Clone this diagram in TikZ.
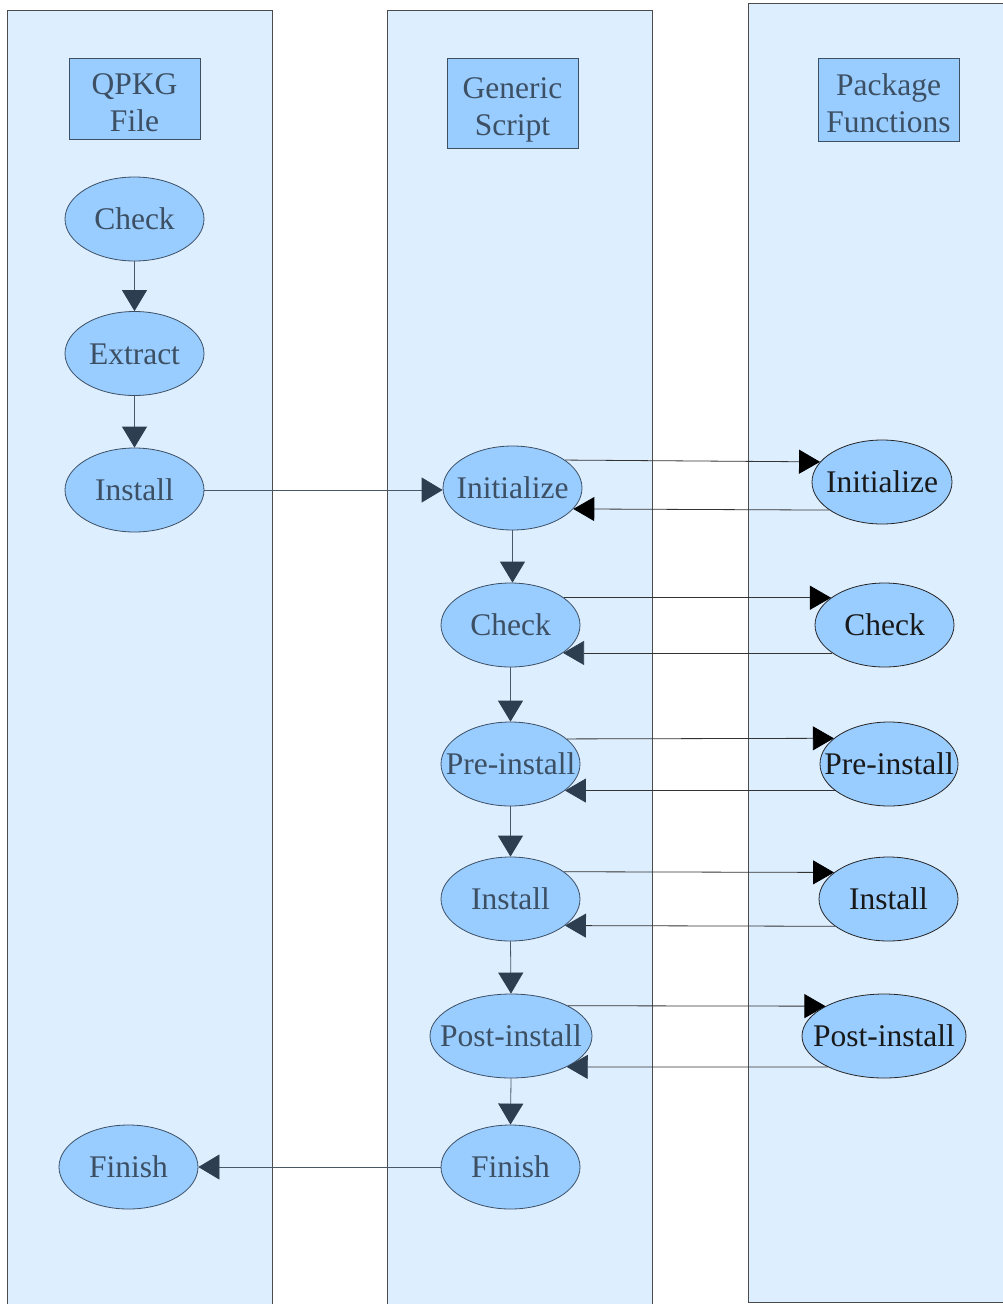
\documentclass[tikz,border=0pt]{standalone}
\usepackage{fontspec}
\setmainfont{Liberation Serif}
\usetikzlibrary{shapes.geometric,arrows.meta}
\definecolor{lanefill}{HTML}{DDEEFF}
\definecolor{nodefill}{HTML}{99CCFF}
\definecolor{slate}{HTML}{3C4F63}
\definecolor{tipc}{HTML}{2C3E50}
\definecolor{linec}{HTML}{4A5866}
\newcommand\elltext[1]{\makebox[0pt]{#1}}
\newcommand\hdrtext[2]{\raisebox{-7pt}[\height][\depth]{\begin{tabular}{@{}c@{}}#1\\#2\end{tabular}}}
\begin{document}
\begin{tikzpicture}[x=1pt,y=-1pt,
  lane/.style={fill=lanefill,draw=black!70,line width=1pt},
  hdr/.style={rectangle,draw=slate,fill=nodefill,line width=0.8pt,text=slate,inner sep=0pt,font=\fontsize{31.5}{37}\selectfont},
  ell/.style={ellipse,draw=slate,fill=nodefill,line width=0.8pt,inner sep=0pt,text=slate,font=\fontsize{31.5}{35}\selectfont,text height=21pt,text depth=0pt,minimum width=139pt,minimum height=84pt},
  ellb/.style={ell,text=black!90,draw=black!85},
  flow/.style={draw=linec,line width=0.8pt,-{Triangle[length=21pt,width=25pt,color=tipc]}},
  callto/.style={draw=black!80,line width=0.8pt,-{Triangle[length=21pt,width=24pt,color=black]}},
  callback/.style={draw=black!80,line width=0.8pt,-{Triangle[length=21pt,width=24pt,color=tipc]}},
  callbackb/.style={draw=black!80,line width=0.8pt,-{Triangle[length=21pt,width=24pt,color=black]}}
]
\useasboundingbox (0,0) rectangle (1002,1304);
\fill[white] (0,0) rectangle (1002,1304);
% lanes
\path[lane] (7,10) rectangle (272,1312);
\path[lane] (387,10) rectangle (652,1312);
\path[lane] (748,3) rectangle (1012,1302);
% headers
\node[hdr,minimum width=131pt,minimum height=81pt] (h1) at (134.5,98.5) {\hdrtext{QPKG}{File}};
\node[hdr,minimum width=131pt,minimum height=90pt] (h2) at (512.5,103) {\hdrtext{Generic}{Script}};
\node[hdr,minimum width=141pt,minimum height=83pt] (h3) at (888.5,99.5) {\hdrtext{Package}{Functions}};
% lane 1
\node[ell] (acheck) at (134.5,219) {\elltext{Check}};
\node[ell] (aextract) at (134.5,353.5) {\elltext{Extract}};
\node[ell] (ainstall) at (134.5,490) {\elltext{Install}};
\node[ell] (afinish) at (128.5,1167) {\elltext{Finish}};
% lane 2
\node[ell] (binit) at (512.5,488) {\elltext{Initialize}};
\node[ell] (bcheck) at (510.5,625) {\elltext{Check}};
\node[ell] (bpre) at (510.5,764) {\elltext{Pre-install}};
\node[ell] (binstall) at (510.5,899) {\elltext{Install}};
\node[ell,minimum width=162pt] (bpost) at (511,1036) {\elltext{Post-install}};
\node[ell] (bfinish) at (510.5,1167) {\elltext{Finish}};
% lane 3
\node[ellb,minimum width=140pt] (cinit) at (882,482) {\elltext{Initialize}};
\node[ellb] (ccheck) at (884.5,625) {\elltext{Check}};
\node[ellb,minimum width=138pt] (cpre) at (889,764) {\elltext{Pre-install}};
\node[ellb] (cinstall) at (888.5,899) {\elltext{Install}};
\node[ellb,minimum width=164pt] (cpost) at (884,1036) {\elltext{Post-install}};
% lane 1 flow
\draw[flow] (acheck.south) -- (aextract.north);
\draw[flow] (aextract.south) -- (ainstall.north);
\draw[flow] (ainstall.east) -- (ainstall.east -| binit.west);
% lane 2 flow
\draw[flow] (binit.south) -- (binit.south |- bcheck.north);
\draw[flow] (bcheck.south) -- (bpre.north);
\draw[flow] (bpre.south) -- (binstall.north);
\draw[flow] (binstall.south) -- (bpost.north);
\draw[flow] (bpost.south) -- (bfinish.north);
\draw[flow] (bfinish.west) -- (afinish.east);
% calls to package functions
\draw[callto] (binit.28) -- (cinit.162);
\draw[callbackb] (cinit.208) -- (binit.-19);
\draw[callto] (bcheck.27) -- (ccheck.153);
\draw[callback] (ccheck.208) -- (bcheck.-28);
\draw[callto] (bpre.24) -- (cpre.155);
\draw[callback] (cpre.206) -- (bpre.-26);
\draw[callto] (binstall.27) -- (cinstall.154);
\draw[callback] (cinstall.207) -- (binstall.-26);
\draw[callto] (bpost.28) -- (cpost.153);
\draw[callback] (cpost.209) -- (bpost.-29);
\end{tikzpicture}
\end{document}
